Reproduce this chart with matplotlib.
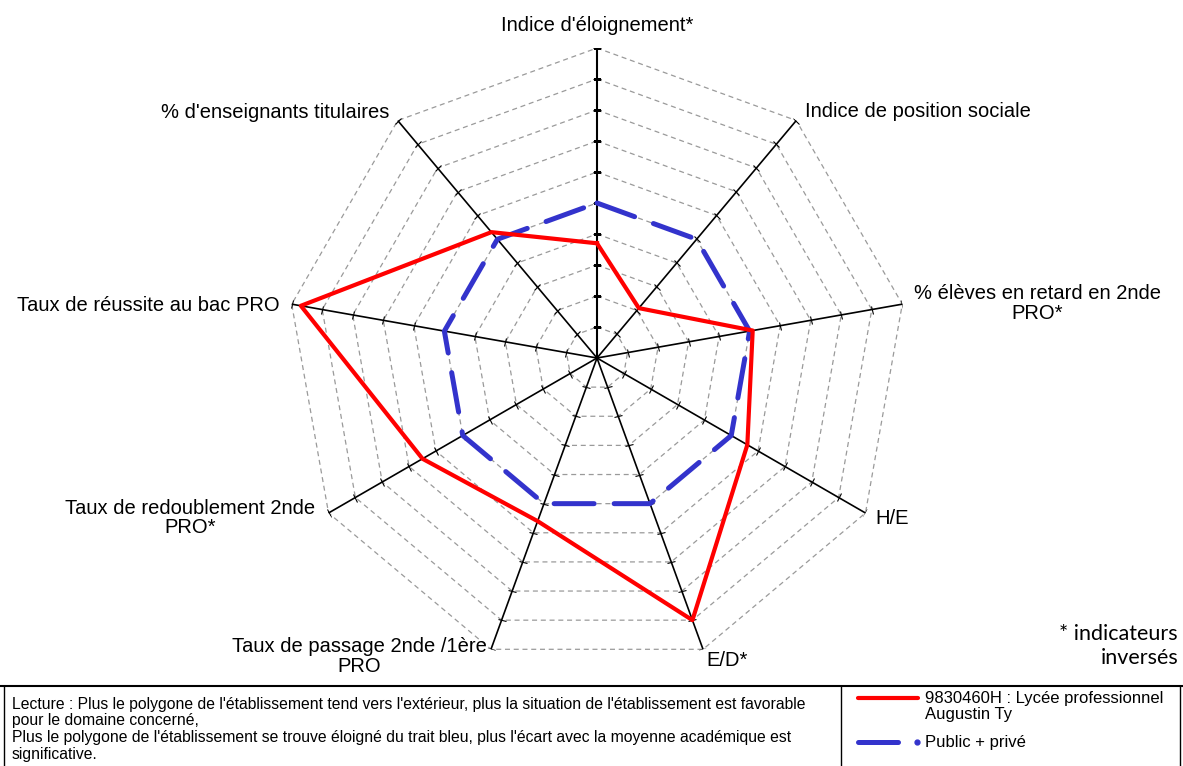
import numpy as np
import matplotlib
matplotlib.use("Agg")
import matplotlib.pyplot as plt
from matplotlib.markers import MarkerStyle
from matplotlib.transforms import Affine2D

plt.rcParams['font.family'] = ['Liberation Sans', 'DejaVu Sans']

# Données (échelle 0-10, moyenne = 5)
axes_labels = ["Indice d'éloignement*", "Indice de position sociale",
               "% élèves en retard en 2nde\nPRO*", "H/E", "E/D*",
               "Taux de passage 2nde /1ère\nPRO", "Taux de redoublement 2nde\nPRO*",
               "Taux de réussite au bac PRO", "% d'enseignants titulaires"]
etablissement = [3.7, 2.1, 5.1, 5.6, 9.0, 5.6, 6.5, 9.7, 5.3]
public_prive = [5.0, 5.0, 5.0, 5.0, 5.0, 5.0, 5.0, 5.0, 5.0]
anneaux = [1, 2, 3, 4, 5, 6, 7, 8, 9, 10]

nom_etab = ["9830460H : Lycée professionnel", "Augustin Ty"]
nom_moy = "Public + privé"
lecture = ["Lecture : Plus le polygone de l'établissement tend vers l'extérieur, plus la situation de l'établissement est favorable",
           "pour le domaine concerné,",
           "Plus le polygone de l'établissement se trouve éloigné du trait bleu, plus l'écart avec la moyenne académique est",
           "significative."]

W, H = 1183, 766
fig = plt.figure(figsize=(W / 100, H / 100), dpi=100)

# cadre du bas (coordonnées en pixels)
bx = fig.add_axes([0, 0, 1, 1])
bx.set_xlim(0, W)
bx.set_ylim(H, 0)
bx.set_axis_off()

cx, cy, R = 597, 358, 310
ax = fig.add_axes([(cx - R) / W, (H - cy - R) / H, 2 * R / W, 2 * R / H], projection='polar')
ax.set_theta_zero_location('N')
ax.set_theta_direction(-1)
ax.set_ylim(0, 10)
ax.set_axis_off()

n = len(axes_labels)
ang_deg = np.arange(n) * 360.0 / n
theta = np.deg2rad(ang_deg)
theta_c = np.append(theta, theta[0])

# anneaux gris en pointillés
for r in anneaux:
    ax.plot(theta_c, [r] * (n + 1), color='#9a9a9a', lw=0.9, ls=(0, (4, 3)), zorder=1)

# rayons + graduations
for i in range(n):
    ax.plot([theta[i], theta[i]], [0, 10], color='black', lw=1.2 if i else 1.5, zorder=2)
    mk = MarkerStyle('_', transform=Affine2D().rotate_deg(-ang_deg[i]))
    ax.plot([theta[i]] * len(anneaux), anneaux, ls='none', marker=mk, ms=6,
            mew=0.8, color='black', zorder=2)

ax.plot(theta_c, public_prive + public_prive[:1], color='#3333cc', lw=3.6,
        ls=(0, (8, 4)), dash_capstyle='round', zorder=3)
ax.plot(theta_c, etablissement + etablissement[:1], color='#ff0000', lw=3.0, zorder=4)

# libellés des axes (décalage en pixels)
offs = [(0, 23, 'center'), (9, 9, 'left'), (135, 1, 'center'), (10, -6, 'left'),
        (24, -11, 'center'), (-132, -7, 'center'), (-138, -5, 'center'),
        (-12, -1, 'right'), (-8, 8, 'right')]
for i, lab in enumerate(axes_labels):
    dx, dy, ha = offs[i]
    ax.annotate(lab, xy=(theta[i], 10), xytext=(dx * 0.72, dy * 0.72),
                textcoords='offset points', ha=ha, va='center', multialignment='center',
                fontsize=14.5, annotation_clip=False, linespacing=1.05)

fig.text(1178 / W, 1 - 646 / H, "* indicateurs\ninversés", ha='right', va='center',
         fontsize=15.5, family=['Lato', 'DejaVu Sans'], linespacing=1.2)

# cadre légende
bx.plot([0, W], [686, 686], color='black', lw=1.5)
bx.plot([4, 4], [686, H], color='black', lw=1.0)
bx.plot([841, 841], [686, H], color='black', lw=1.0)
bx.plot([1180, 1180], [686, H], color='black', lw=1.0)
for k, ligne in enumerate(lecture):
    bx.text(12, 704 + k * 16.8, ligne, ha='left', va='center', fontsize=11.3)

bx.plot([858, 918], [698, 698], color='#ff0000', lw=3.0, solid_capstyle='round')
bx.text(925, 698, nom_etab[0], ha='left', va='center', fontsize=12)
bx.text(925, 715, nom_etab[1], ha='left', va='center', fontsize=12)
bx.plot([858, 898], [742, 742], color='#3333cc', lw=3.6, solid_capstyle='round')
bx.plot([917], [742], marker='o', ms=3.5, color='#3333cc')
bx.text(925, 742, nom_moy, ha='left', va='center', fontsize=12)

fig.savefig("out.png", dpi=100)
